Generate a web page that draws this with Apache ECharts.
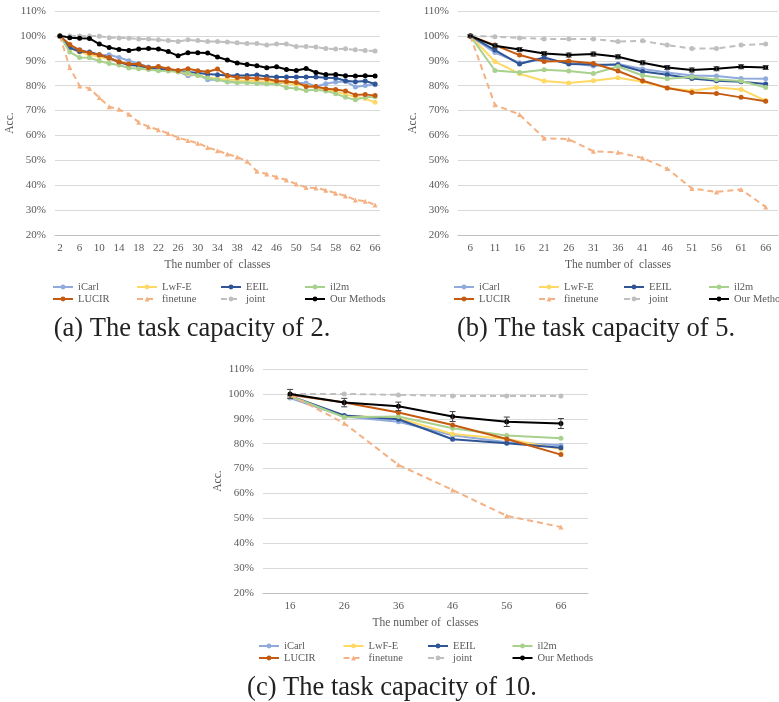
<!DOCTYPE html>
<html>
<head>
<meta charset="utf-8">
<script src="https://cdn.jsdelivr.net/npm/echarts@6/dist/echarts.min.js"></script>
<style>
  html, body { margin: 0; padding: 0; background: #fff; }
  #chart { width: 779px; height: 702px; }
</style>
</head>
<body>
<div id="chart"></div>
<script>
// x categories (number of classes)
var catsA = ['2', '4', '6', '8', '10', '12', '14', '16', '18', '20', '22', '24', '26', '28', '30', '32', '34',
  '36', '38', '40', '42', '44', '46', '48', '50', '52', '54', '56', '58', '60', '62', '64', '66']
var catsB = ['6', '11', '16', '21', '26', '31', '36', '41', '46', '51', '56', '61', '66']
var catsC = ['16', '26', '36', '46', '56', '66']
var yTicks = [20, 30, 40, 50, 60, 70, 80, 90, 100, 110]

// (a) task capacity 2
var aICarl = [100, 95.5, 94.4, 93.2, 92.1, 92.4, 91.3, 90, 88.8, 87.5, 87.1, 86.3, 85.7, 84, 84.4, 82.4, 82.5, 82, 82, 81.9, 81.5, 81.3, 81.1, 81.1, 81.1, 81.1, 79.7, 80.8, 81.5, 81.7, 79.5, 80.1, 80.4]
var aLwF = [100, 95, 93.5, 92.4, 91.6, 90.5, 89.7, 88.7, 87.9, 87.1, 86.8, 86.3, 85.6, 84.8, 84.1, 83.3, 82.8, 82.5, 82.1, 81.9, 81.9, 81.5, 81.5, 81.1, 80.4, 79.9, 79.3, 78.5, 77.6, 76.5, 75.5, 74.8, 73.3]
var aEEIL = [100, 95.2, 93.7, 93.5, 92.4, 91.1, 89.5, 88.3, 88, 87.2, 86.8, 86.3, 85.9, 85.5, 85.1, 84.7, 84.4, 84.1, 84.1, 84.1, 84.3, 83.7, 83.5, 83.5, 83.5, 83.5, 83.5, 83.2, 83.1, 82, 81.6, 81.9, 80.7]
var aIl2m = [100, 93.5, 91.3, 91.2, 89.9, 88.9, 88.3, 87.1, 86.8, 86.5, 86, 85.9, 85.5, 85.2, 84.1, 83.1, 82.4, 81.5, 81.2, 81.2, 80.9, 80.7, 80.7, 79.2, 78.9, 78.1, 78.4, 77.9, 76.8, 75.3, 74.3, 75.3, 75.5]
var aLUCIR = [100, 96.5, 94.3, 93.1, 92.4, 91.3, 89.5, 88.7, 88.7, 87.2, 87.7, 86.8, 86.1, 86.8, 86, 85.6, 86.7, 84, 83.3, 83.1, 82.9, 82.7, 81.9, 81.7, 81.3, 79.7, 79.7, 78.8, 78.5, 77.9, 76.3, 76.5, 76]
var aFinetune = [100, 87.3, 79.9, 78.9, 75.2, 71.5, 70.5, 68.5, 65.3, 63.5, 62.3, 60.8, 59.1, 58, 56.9, 55.2, 53.9, 52.5, 51.3, 49.6, 45.6, 44.5, 43.3, 42.1, 40.5, 39.1, 38.9, 38, 36.8, 35.7, 34.1, 33.6, 32.1]
var aJoint = [100, 100, 100, 100, 99.9, 99.3, 99.2, 99.1, 98.7, 98.7, 98.4, 98.1, 97.7, 98.4, 98.1, 97.7, 97.7, 97.5, 97.2, 96.9, 96.9, 96.3, 96.7, 96.7, 95.7, 95.7, 95.5, 94.9, 94.7, 94.8, 94.4, 94.1, 93.9]
var aOurs = [100, 99.3, 99.1, 99, 96.7, 95.3, 94.5, 94.1, 94.7, 94.9, 94.7, 93.7, 92, 93.2, 93.2, 93.1, 91.5, 90.3, 89.1, 88.5, 88, 87.2, 87.6, 86.5, 86.1, 86.9, 85.3, 84.5, 84.5, 84, 83.9, 84, 83.9]

// (b) task capacity 5
var bICarl = [100, 93.3, 89.2, 90.5, 89.2, 87.9, 88.7, 86.7, 85.3, 84.1, 83.9, 82.9, 82.8]
var bLwF = [100, 89.7, 84.8, 81.9, 81.1, 82, 83.2, 81.6, 79.1, 78, 79.3, 78.5, 74]
var bEEIL = [100, 94.3, 88.7, 91.3, 88.7, 88.5, 88.4, 85.7, 84.4, 82.9, 82, 81.6, 80.7]
var bIl2m = [100, 86.1, 85.3, 86.4, 85.9, 84.9, 87.7, 84.1, 82.8, 83.5, 82.5, 81.9, 79.3]
var bLUCIR = [100, 96.3, 92.3, 89.7, 89.9, 88.9, 85.9, 82, 79.1, 77.3, 76.9, 75.3, 73.7]
var bFinetune = [100, 72.3, 68.4, 58.9, 58.5, 53.6, 53.2, 50.9, 46.7, 38.7, 37.3, 38.3, 31.3]
var bJoint = [100, 99.7, 99.2, 98.8, 98.8, 98.8, 97.7, 98, 96.3, 94.9, 94.9, 96.3, 96.7]
var bOurs = [100, 96, 94.5, 92.9, 92.3, 92.7, 91.6, 89.2, 87.3, 86.3, 86.8, 87.6, 87.3]
var bOursErr = [0.6, 0.8, 0.8, 0.8, 0.8, 0.8, 0.8, 0.8, 0.8, 0.8, 0.8, 0.8, 0.8]

// (c) task capacity 10
var cICarl = [98.3, 90.9, 88.8, 83.4, 80.6, 79.4]
var cLwF = [98.9, 91.2, 90.2, 83.9, 81.9, 77.8]
var cEEIL = [99.2, 91.3, 89.8, 81.8, 80.2, 78.4]
var cIl2m = [99.2, 90.6, 90.9, 86.2, 83.3, 82.2]
var cLUCIR = [99.6, 96.5, 92.5, 87.5, 81.9, 75.6]
var cFinetune = [99.6, 88.2, 71.5, 61.4, 51, 46.5]
var cJoint = [100, 100, 99.6, 99.2, 99.2, 99.2]
var cOurs = [100, 96.5, 95, 90.9, 88.8, 88.1]
var cOursErr = [1.8, 1.7, 1.7, 2, 1.9, 2]

var names = ['iCarl', 'LwF-E', 'EEIL', 'il2m', 'LUCIR', 'finetune', 'joint', 'Our Methods']
var colors = ['#8FAADC', '#FFD966', '#2F5597', '#A9D18E', '#C55A11', '#F4B183', '#BFBFBF', '#000000']
var textColor = '#595959'
var serif = 'Liberation Serif'

var chart = echarts.init(document.getElementById('chart'))

var panels = [
  { cats: catsA, data: [aICarl, aLwF, aEEIL, aIl2m, aLUCIR, aFinetune, aJoint, aOurs], err: null,
    grid: { left: 55, top: 11, width: 325, height: 224 }, labelInterval: 1, legendLeft: 52, legendTop: 281, pitch: 83 },
  { cats: catsB, data: [bICarl, bLwF, bEEIL, bIl2m, bLUCIR, bFinetune, bJoint, bOurs], err: bOursErr,
    grid: { left: 458, top: 11, width: 320, height: 224 }, labelInterval: 0, legendLeft: 453, legendTop: 281, pitch: 84 },
  { cats: catsC, data: [cICarl, cLwF, cEEIL, cIl2m, cLUCIR, cFinetune, cJoint, cOurs], err: cOursErr,
    grid: { left: 263, top: 369, width: 325, height: 224 }, labelInterval: 0, legendLeft: 258, legendTop: 640, pitch: 83.5 }
]

var grids = []
var xAxes = []
var yAxes = []
var series = []
var legends = []

panels.forEach(function (p, k) {
  grids.push(p.grid)
  xAxes.push({
    type: 'category',
    gridIndex: k,
    data: p.cats,
    name: 'The number of  classes',
    nameLocation: 'middle',
    nameGap: 24,
    nameTextStyle: { fontFamily: serif, fontSize: 11.5, color: textColor },
    axisLine: { lineStyle: { color: '#BFBFBF' } },
    axisTick: { inside: true, length: 4, interval: 0, lineStyle: { color: '#BFBFBF' } },
    axisLabel: { interval: p.labelInterval, fontFamily: serif, fontSize: 11, color: textColor, margin: 8 },
    splitLine: { show: false }
  })
  yAxes.push({
    type: 'value',
    gridIndex: k,
    min: yTicks[0],
    max: yTicks[yTicks.length - 1],
    interval: 10,
    name: 'Acc.',
    nameLocation: 'middle',
    nameGap: 39,
    nameTextStyle: { fontFamily: serif, fontSize: 11.5, color: textColor },
    axisLine: { show: false },
    axisTick: { show: false },
    axisLabel: { formatter: '{value}%', fontFamily: serif, fontSize: 11, color: textColor, margin: 9 },
    splitLine: { lineStyle: { color: '#D9D9D9', width: 1 } }
  })
  names.forEach(function (name, i) {
    var dashed = (name === 'finetune' || name === 'joint')
    series.push({
      name: name,
      type: 'line',
      xAxisIndex: k,
      yAxisIndex: k,
      data: p.data[i],
      color: colors[i],
      symbol: name === 'finetune' ? 'triangle' : 'circle',
      symbolSize: 5,
      showSymbol: true,
      lineStyle: { width: 2, type: dashed ? [6, 4] : 'solid' },
      itemStyle: { color: colors[i] },
      z: 2 + i
    })
  })
  if (p.err) {
    var errData = p.data[7].map(function (v, j) { return [j, v - p.err[j], v + p.err[j]] })
    series.push({
      name: 'err' + k,
      type: 'custom',
      xAxisIndex: k,
      yAxisIndex: k,
      data: errData,
      z: 20,
      renderItem: function (params, api) {
        var lo = api.coord([api.value(0), api.value(1)])
        var hi = api.coord([api.value(0), api.value(2)])
        var w = 3
        var st = { stroke: '#404040', lineWidth: 1 }
        return {
          type: 'group',
          children: [
            { type: 'line', shape: { x1: lo[0], y1: lo[1], x2: hi[0], y2: hi[1] }, style: st },
            { type: 'line', shape: { x1: lo[0] - w, y1: lo[1], x2: lo[0] + w, y2: lo[1] }, style: st },
            { type: 'line', shape: { x1: hi[0] - w, y1: hi[1], x2: hi[0] + w, y2: hi[1] }, style: st }
          ]
        }
      }
    })
  }
  // two legend rows of four entries each
  ;[names.slice(0, 4), names.slice(4)].forEach(function (row, r) {
    legends.push({
      data: row,
      left: p.legendLeft,
      top: p.legendTop + r * 12,
      width: 4 * p.pitch + 20,
      orient: 'horizontal',
      padding: 0,
      itemGap: 0,
      itemWidth: 20,
      itemHeight: 6,
      textStyle: { fontFamily: serif, fontSize: 10.5, color: textColor, width: p.pitch - 25, lineHeight: 12 }
    })
  })
})

var captions = [
  { text: '(a) The task capacity of 2.', x: 192, y: 329 },
  { text: '(b) The task capacity of 5.', x: 596, y: 329 },
  { text: '(c) The task capacity of 10.', x: 392, y: 688 }
]

chart.setOption({
  animation: false,
  backgroundColor: '#ffffff',
  grid: grids,
  xAxis: xAxes,
  yAxis: yAxes,
  legend: legends,
  series: series,
  graphic: captions.map(function (c) {
    return {
      type: 'text',
      x: c.x,
      y: c.y,
      style: { text: c.text, fontFamily: serif, fontSize: 26.5, fill: '#222', textAlign: 'center', textVerticalAlign: 'middle' }
    }
  })
})
</script>
</body>
</html>
